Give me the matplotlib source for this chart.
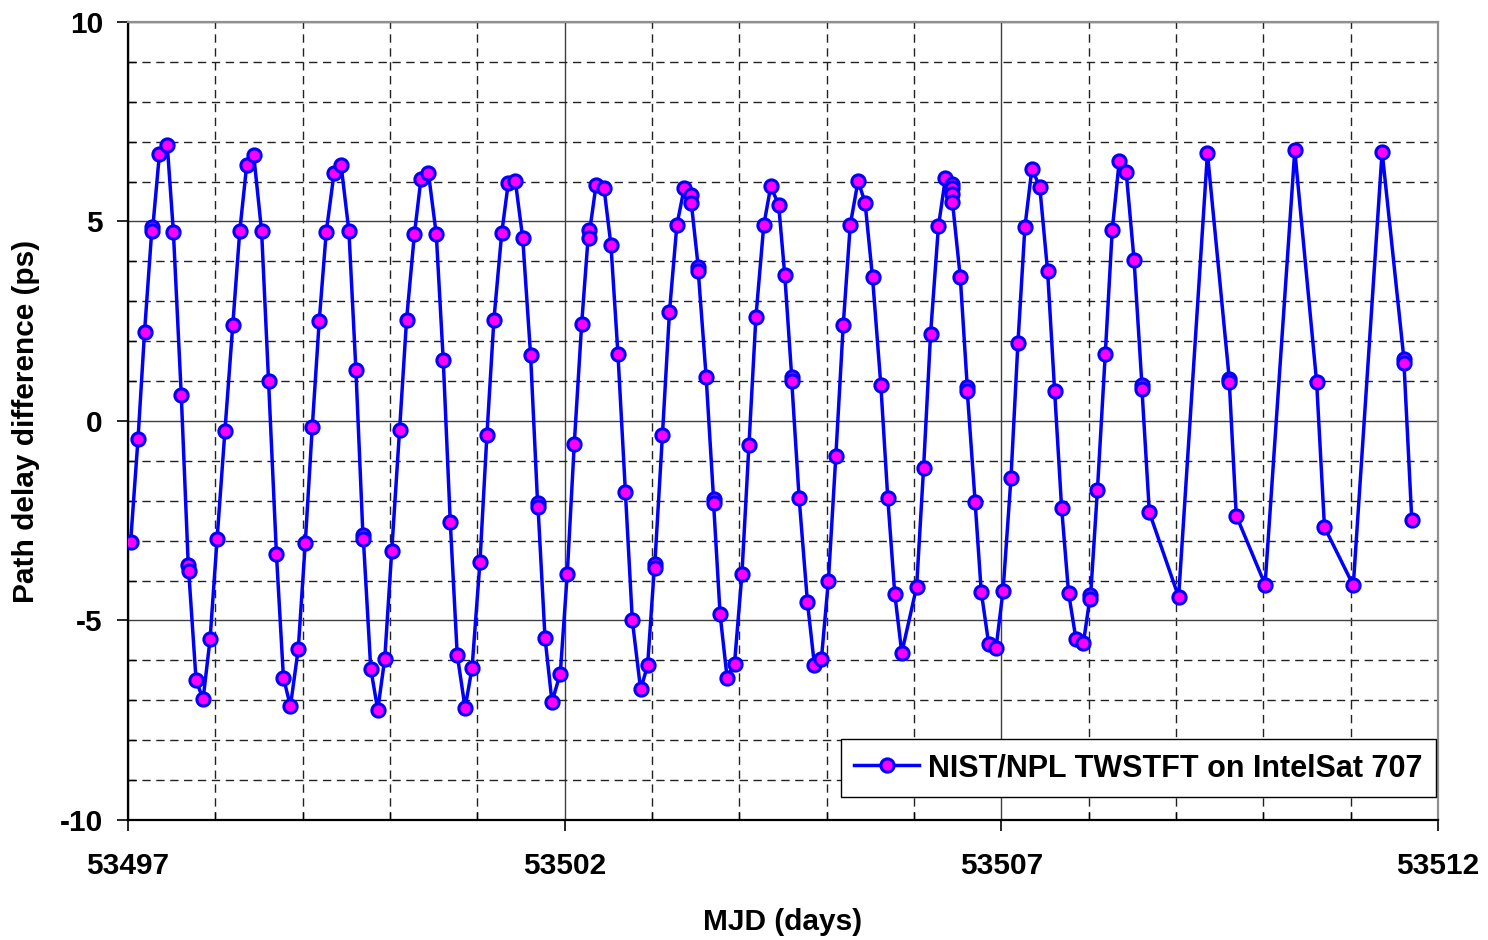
import matplotlib
matplotlib.use("Agg")
import matplotlib.pyplot as plt
from matplotlib.ticker import MultipleLocator
import numpy as np

# MJD 시작점 기준 경과일
mjd0 = 53497
day_offset = [
    0.03, 0.115, 0.19, 0.275, 0.28, 0.36, 0.45, 0.52, 0.61, 0.69, 0.695, 0.78, 0.86, 0.94,
    1.02, 1.11, 1.20, 1.28, 1.36, 1.44, 1.53, 1.61, 1.70, 1.78, 1.86, 1.95,
    2.03, 2.11, 2.19, 2.27, 2.36, 2.44, 2.53, 2.61, 2.69, 2.695, 2.78, 2.86, 2.94,
    3.02, 3.11, 3.19, 3.28, 3.355, 3.44, 3.53, 3.61, 3.69, 3.77, 3.86, 3.94,
    4.03, 4.11, 4.19, 4.28, 4.355, 4.435, 4.52, 4.61, 4.69, 4.695, 4.775, 4.855, 4.95,
    5.03, 5.11, 5.195, 5.275, 5.275, 5.36, 5.45, 5.53, 5.61, 5.695, 5.775, 5.87, 5.95,
    6.03, 6.03, 6.12, 6.20, 6.285, 6.37, 6.445, 6.45, 6.53, 6.53, 6.62, 6.705, 6.705,
    6.78, 6.86, 6.945,
    7.03, 7.11, 7.19, 7.28, 7.36, 7.45, 7.52, 7.60, 7.60, 7.685, 7.78, 7.86, 7.94,
    8.02, 8.105, 8.19, 8.27, 8.36, 8.44, 8.525, 8.62, 8.70, 8.78, 8.86,
    9.03, 9.11, 9.19, 9.28, 9.36, 9.44, 9.44, 9.44, 9.44, 9.53, 9.61, 9.61, 9.70, 9.77,
    9.855, 9.94,
    10.02, 10.11, 10.19, 10.27, 10.35, 10.44, 10.53, 10.61, 10.69, 10.77, 10.855, 10.94,
    11.02, 11.02, 11.10, 11.19, 11.27, 11.35, 11.43, 11.52, 11.61, 11.61, 11.695,
    12.03, 12.36, 12.61, 12.61, 12.69,
    13.02, 13.36, 13.61, 13.70,
    14.03, 14.36, 14.61, 14.61, 14.70,
]
delay_ps = [
    -3.04, -0.45, 2.24, 4.85, 4.75, 6.69, 6.91, 4.74, 0.66, -3.60, -3.75, -6.50, -6.97, -5.47,
    -2.97, -0.25, 2.41, 4.76, 6.42, 6.66, 4.76, 0.99, -3.34, -6.43, -7.15, -5.71,
    -3.06, -0.16, 2.51, 4.73, 6.22, 6.42, 4.75, 1.27, -2.85, -2.95, -6.21, -7.24, -5.96,
    -3.27, -0.22, 2.54, 4.69, 6.07, 6.22, 4.68, 1.52, -2.52, -5.86, -7.19, -6.19,
    -3.54, -0.35, 2.54, 4.72, 5.97, 6.02, 4.58, 1.65, -2.05, -2.15, -5.43, -7.04, -6.33,
    -3.83, -0.58, 2.44, 4.78, 4.58, 5.92, 5.85, 4.41, 1.69, -1.78, -5.00, -6.73, -6.12,
    -3.58, -3.68, -0.34, 2.73, 4.91, 5.85, 5.67, 5.47, 3.85, 3.75, 1.11, -1.95, -2.05,
    -4.85, -6.43, -6.08,
    -3.83, -0.59, 2.61, 4.91, 5.88, 5.42, 3.67, 1.10, 1.00, -1.94, -4.54, -6.12, -5.96,
    -4.00, -0.88, 2.41, 4.91, 6.02, 5.47, 3.60, 0.91, -1.94, -4.33, -5.81,
    -4.16, -1.17, 2.19, 4.88, 6.09, 5.95, 5.85, 5.70, 5.50, 3.60, 0.85, 0.75, -2.03, -4.28,
    -5.58, -5.68,
    -4.25, -1.44, 1.95, 4.86, 6.32, 5.87, 3.75, 0.76, -2.17, -4.31, -5.47, -5.56,
    -4.35, -4.45, -1.74, 1.67, 4.79, 6.51, 6.23, 4.03, 0.90, 0.80, -2.29,
    -4.41, 6.71, 1.05, 0.98, -2.37,
    -4.10, 6.78, 0.98, -2.66,
    -4.12, 6.75, 1.55, 1.45, -2.49,
]
x_ticks = [53497, 53502, 53507, 53512]
y_ticks = [-10, -5, 0, 5, 10]

plt.rcParams['font.family'] = ['Liberation Sans', 'DejaVu Sans']
plt.rcParams['font.weight'] = 'bold'
plt.rcParams['axes.unicode_minus'] = False

fig = plt.figure(figsize=(14.88, 9.4), dpi=100)
ax = fig.add_axes([0.086, 0.1277, 0.8804, 0.8489])

mjd = mjd0 + np.array(day_offset)
ax.plot(mjd, delay_ps, color='#0000FF', lw=2.5, marker='o', markersize=9.5,
        markerfacecolor='#FF00FF', markeredgecolor='#0000FF', markeredgewidth=2.2,
        label='NIST/NPL TWSTFT on IntelSat 707', zorder=3)

ax.set_xlim(53497, 53512)
ax.set_ylim(-10, 10)
ax.set_xticks(x_ticks)
ax.set_yticks(y_ticks)
ax.xaxis.set_minor_locator(MultipleLocator(1))
ax.yaxis.set_minor_locator(MultipleLocator(1))

# 격자
ax.grid(which='major', color='#404040', lw=1.0, ls='-')
ax.grid(which='minor', color='#222222', lw=1.0, ls=(0, (6, 4)))
ax.set_axisbelow(True)

ax.tick_params(which='major', direction='out', length=8, width=1.2, labelsize=21.5)
ax.tick_params(which='minor', direction='in', length=6, width=1.0)
ax.tick_params(axis='x', which='major', pad=15)
ax.tick_params(axis='y', which='major', pad=10)

for side in ['left', 'bottom']:
    ax.spines[side].set_color('black')
    ax.spines[side].set_linewidth(1.6)
for side in ['top', 'right']:
    ax.spines[side].set_color('#909090')
    ax.spines[side].set_linewidth(1.6)

ax.set_xlabel('MJD (days)', fontsize=21.5, fontweight='bold', labelpad=20)
ax.set_ylabel('Path delay difference (ps)', fontsize=21.5, fontweight='bold', labelpad=14)

leg = ax.legend(loc='lower right', bbox_to_anchor=(0.9985, 0.029), fontsize=22,
                frameon=True, fancybox=False, handlelength=2.1, handletextpad=0.3,
                borderpad=0.45, borderaxespad=0)
leg.get_frame().set_edgecolor('black')
leg.get_frame().set_linewidth(1.0)
leg.get_frame().set_facecolor('white')
leg.get_frame().set_alpha(1)

fig.savefig('out.png', dpi=100)
